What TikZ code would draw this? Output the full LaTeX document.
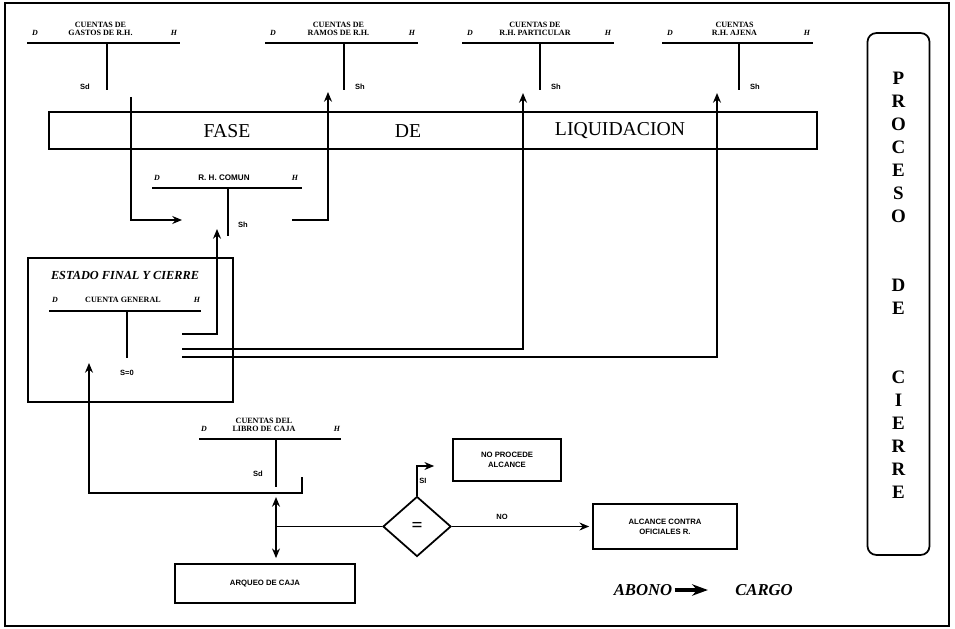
\documentclass[tikz,border=0pt]{standalone}
\usepackage{fontspec}
\setmainfont{Liberation Serif}
\setsansfont{Liberation Sans}
\usetikzlibrary{arrows.meta,shapes.geometric}

\tikzset{
  trazo/.style={line width=1pt},
  flow/.style={line width=1pt,-{Stealth[length=5.5pt,width=4.5pt]}},
  dflow/.style={line width=1pt,{Stealth[length=5.5pt,width=4.5pt]}-{Stealth[length=5.5pt,width=4.5pt]}},
  box/.style={draw,line width=1pt,align=center,inner sep=0pt,font=\sffamily\bfseries\fontsize{4.4}{5.6}\selectfont},
  lbl/.style={font=\sffamily\bfseries\fontsize{4.3}{5}\selectfont},
  ttitle/.style={font=\bfseries\fontsize{4.6}{4.7}\selectfont,align=center,inner sep=0pt},
  dh/.style={font=\bfseries\itshape\fontsize{4.5}{5}\selectfont,inner sep=0pt},
  fasetxt/.style={font=\fontsize{11.2}{13}\selectfont},
  letra/.style={font=\bfseries\fontsize{10.8}{12}\selectfont,inner sep=0pt},
  lema/.style={font=\bfseries\itshape\fontsize{9.5}{11}\selectfont,inner sep=0pt},
}

\begin{document}
\begin{tikzpicture}[x=0.02cm,y=-0.02cm]
    \useasboundingbox (0,0) rectangle (955,628);
    % Marco
    \draw[trazo] (5,3) rectangle (949,626);

    % Cuentas de liquidacion
    \foreach \n/\l/\r/\s/\sx/\sl/\ta/\tb in {
        gastos/27/180/107/-22/Sd/CUENTAS DE/GASTOS DE R.H.,
        ramos/265/418/344/16/Sh/CUENTAS DE/RAMOS DE R.H.,
        partic/462/614/540/16/Sh/CUENTAS DE/R.H. PARTICULAR,
        ajena/662/813/739/16/Sh/CUENTAS/R.H. AJENA}
    {
        \draw[trazo] (\l,43) -- (\r,43);
        \draw[trazo] (\s,43) -- (\s,90) coordinate (\n-s);
        \node[dh] at (\l+8,33) {D};
        \node[dh] at (\r-6,33) {H};
        \node[ttitle] (\n) at ({(\l+\r)/2-3},29) {\ta\\\tb};
        \node[lbl] at (\s+\sx,87) {\sl};
    }

    % Fase de liquidacion
    \node[box, minimum width=15.36cm, minimum height=0.74cm] (fase) at (433,130.5) {};
    \node[fasetxt] at (227,131) {FASE};
    \node[fasetxt] at (408,131) {DE};
    \node[fasetxt] at (620,131) {LIQUIDACION};

    % R. H. Comun
    \draw[trazo] (152,188) -- (302,188);
    \draw[trazo] (228,188) -- (228,236) coordinate (comun-s);
    \node[dh] at (157,178) {D};
    \node[dh] at (295,178) {H};
    \node[lbl, font=\sffamily\bfseries\fontsize{4.6}{5}\selectfont] (comun) at (224,178) {R. H. COMUN};
    \node[lbl] at (243,225) {Sh};

    % Estado final y cierre
    \node[box, minimum width=4.1cm, minimum height=2.88cm] (estado) at (130.5,330) {};
    \node[lema, font=\bfseries\itshape\fontsize{7}{8}\selectfont] at (125,275) {ESTADO FINAL Y CIERRE};
    \draw[trazo] (49,311) -- (201,311);
    \draw[trazo] (127,311) -- (127,358) coordinate (general-s);
    \node[dh] at (55,300) {D};
    \node[dh] at (197,300) {H};
    \node[ttitle] (general) at (123,300) {CUENTA GENERAL};
    \node[lbl] at (127,373) {S=0};

    % Libro de caja
    \draw[trazo] (199,439) -- (341,439);
    \draw[trazo] (276,439) -- (276,487) coordinate (caja-s);
    \node[dh] at (204,429) {D};
    \node[dh] at (337,429) {H};
    \node[ttitle] (caja) at (264,425) {CUENTAS DEL\\LIBRO DE CAJA};
    \node[lbl] at (258,474) {Sd};

    % Traspasos de saldos
    \coordinate (gastos-o) at (131,97);
    \coordinate (comun-i) at (182,220);
    \coordinate (comun-o) at (292,220);
    \coordinate (ramos-i) at (328,92);
    \coordinate (general-o1) at (182,334);
    \coordinate (comun-i2) at (217,229);
    \coordinate (general-o2) at (182,349);
    \coordinate (partic-i) at (523,93);
    \coordinate (general-o3) at (182,357);
    \coordinate (ajena-i) at (717,93);
    \coordinate (caja-o) at (302,477);
    \coordinate (general-i) at (89,363);
    \draw[flow] (gastos-o) |- (comun-i);
    \draw[flow] (comun-o) -| (ramos-i);
    \draw[flow] (general-o1) -| (comun-i2);
    \draw[flow] (general-o2) -| (partic-i);
    \draw[flow] (general-o3) -| (ajena-i);
    \draw[flow] (caja-o) -- ++(0,16) -| (general-i);

    % Arqueo y comparacion
    \node[box, minimum width=3.6cm, minimum height=0.78cm] (arqueo) at (265,583.5) {ARQUEO DE CAJA};
    \node[draw, diamond, line width=1pt, minimum width=1.36cm, minimum height=1.2cm, inner sep=0pt,
          font=\bfseries\fontsize{11}{11}\selectfont] (igual) at (417,526.5) {=};
    \node[box, minimum width=2.16cm, minimum height=0.84cm] (noproc) at (507,460) {NO PROCEDE\\ALCANCE};
    \node[box, minimum width=2.88cm, minimum height=0.9cm] (alcance) at (665,526.5) {ALCANCE CONTRA\\OFICIALES R.};
    \draw[dflow, shorten <=0.2cm, shorten >=0.1cm] (caja-s) -- (caja-s |- arqueo.north);
    \draw[trazo] (caja-s |- igual.west) -- (igual.west);
    \draw[flow] (igual.north) |- ([xshift=-0.36cm]noproc.west |- 0,466);
    \node[lbl] at (423,481) {SI};
    \draw[flow, shorten >=0.06cm] (igual.east) -- (alcance.west);
    \node[lbl] at (502,517) {NO};

    % Proceso de cierre
    \node[draw, line width=1pt, rounded corners=5pt, minimum width=1.24cm, minimum height=10.44cm] (proceso) at (898.5,294) {};
    \foreach \c [count=\i] in {P,R,O,C,E,S,O,{},{},D,E,{},{},C,I,E,R,R,E}
        \node[letra] at (898.5,{55+23*\i}) {\c};

    % Abono y cargo
    \node[lema] (abono) at (643,590) {ABONO};
    \node[lema] (cargo) at (764,590) {CARGO};
    \draw[line width=1.8pt, -{Stealth[length=9pt,width=6.5pt]}, shorten <=0.04cm, shorten >=0.54cm] (abono.east) -- (cargo.west);
\end{tikzpicture}
\end{document}
